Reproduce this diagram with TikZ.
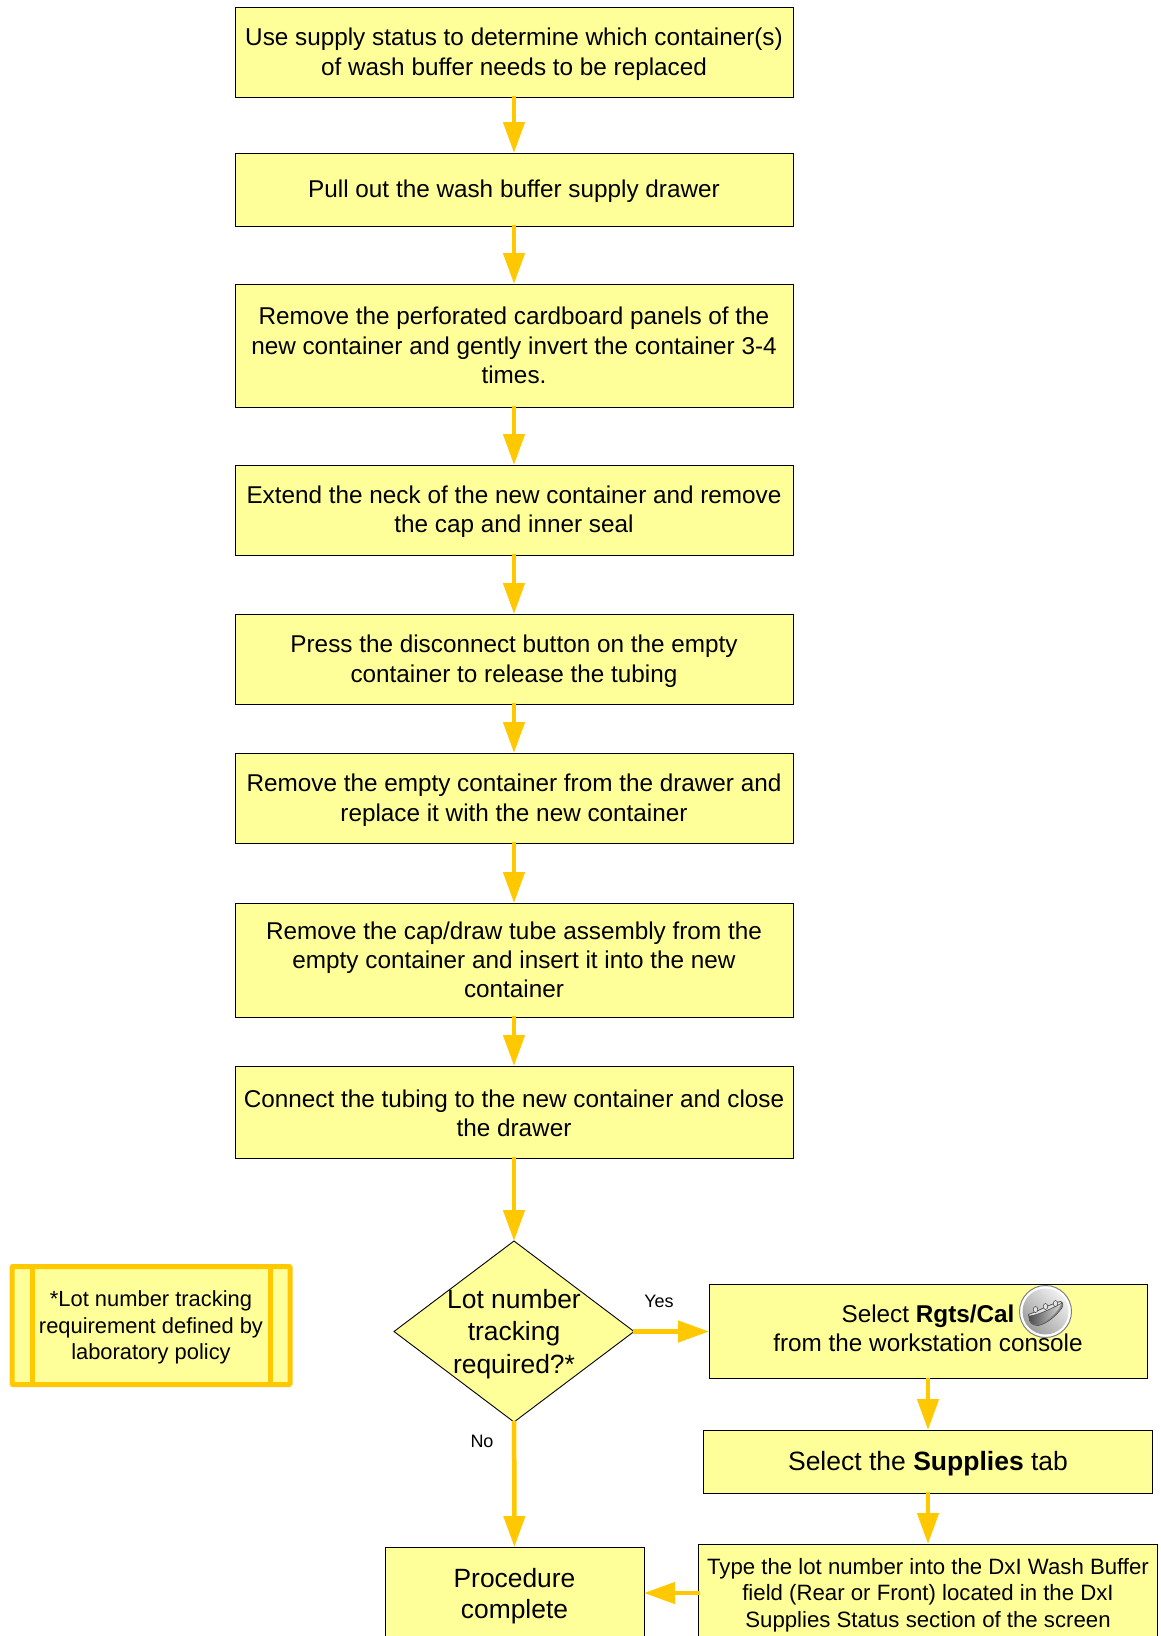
\documentclass[tikz,border=0pt]{standalone}
\usepackage{fontspec}
\setmainfont{Liberation Sans}
\usetikzlibrary{arrows.meta,shapes.geometric}
\definecolor{boxfill}{HTML}{FFFF99}
\definecolor{flow}{HTML}{FFC800}
\newcommand\tup[1]{\rule{0pt}{#1pt}}
\tikzset{
  bx/.style 2 args={draw=black,line width=0.9pt,fill=boxfill,inner sep=0pt,outer sep=0pt,
    minimum width=#1,minimum height=#2,align=center,font=\fontsize{24.3}{29.2}\selectfont},
  link/.style={draw=flow,line width=4.5pt,-{Triangle[length=31pt,width=21pt]},shorten <=-1pt},
  lab/.style={inner sep=0pt,font=\fontsize{18}{22}\selectfont}
}
\begin{document}
\begin{tikzpicture}[x=1pt,y=-1pt]
\path[use as bounding box] (0,0) rectangle (1160,1636);
\clip (0,0) rectangle (1160,1636);
\node[bx={558pt}{90pt}] (b1) at (514,52) {\tup{22}Use supply status to determine which container(s)\\of wash buffer needs to be replaced};
\node[bx={558pt}{73pt}] (b2) at (514,189.5) {\tup{22}Pull out the wash buffer supply drawer};
\node[bx={558pt}{123pt}] (b3) at (514,345.5) {Remove the perforated cardboard panels of the\\new container and gently invert the container 3-4\\times.};
\node[bx={558pt}{90pt}] (b4) at (514,510) {\tup{21}Extend the neck of the new container and remove\\the cap and inner seal};
\node[bx={558pt}{90pt}] (b5) at (514,659) {\tup{22}Press the disconnect button on the empty\\container to release the tubing};
\node[bx={558pt}{90pt}] (b6) at (514,798) {\tup{22}Remove the empty container from the drawer and\\replace it with the new container};
\node[bx={558pt}{114pt}] (b7) at (514,960) {Remove the cap/draw tube assembly from the\\empty container and insert it into the new\\container};
\node[bx={558pt}{92pt}] (b8) at (514,1112) {\tup{20}Connect the tubing to the new container and close\\the drawer};
\node[diamond,draw=black,line width=0.9pt,fill=boxfill,inner sep=0pt,outer sep=0pt,aspect=1.33,
  minimum width=240pt,minimum height=181pt,
  label={[name=dt,align=center,inner sep=0pt,font=\fontsize{26.4}{32.5}\selectfont]center:\tup{24}Lot number\\tracking\\required?*}] (d) at (514,1331.5) {};
\node[bx={438pt}{94pt}] (r) at (928,1331.5) {Select \textbf{Rgts/Cal}\\from the workstation console\rule[-6pt]{0pt}{6pt}};
\node[bx={449pt}{63pt},font=\fontsize{26.5}{30}\selectfont] (s) at (928,1461.5) {\tup{23}Select the \textbf{Supplies} tab};
\node[bx={459pt}{98pt},font=\fontsize{22.2}{26.5}\selectfont] (t) at (928,1593) {\tup{20}Type the lot number into the DxI Wash Buffer\\field (Rear or Front) located in the DxI\\Supplies Status section of the screen};
\node[bx={259pt}{92pt},font=\fontsize{26.4}{31.5}\selectfont] (p) at (514.5,1593) {\tup{25}Procedure\\complete};
\node[draw=flow,line width=5pt,fill=boxfill,rounded corners=1pt,inner sep=0pt,outer sep=0pt,
  minimum width=278pt,minimum height=118pt,align=center,font=\fontsize{21.9}{26.5}\selectfont] (n) at (151,1325.5) {\tup{20}*Lot number tracking\\requirement defined by\\laboratory policy};
\draw[flow,line width=5pt] ([xshift=20.5pt]n.north west) -- ([xshift=20.5pt]n.south west);
\draw[flow,line width=5pt] ([xshift=-20pt]n.north east) -- ([xshift=-20pt]n.south east);
\draw[link] (b1) -- (b2);
\draw[link] (b2) -- (b3);
\draw[link] (b3) -- (b4);
\draw[link] (b4) -- (b5);
\draw[link] (b5) -- (b6);
\draw[link] (b6) -- (b7);
\draw[link] (b7) -- (b8);
\draw[link] (b8) -- (d);
\draw[link] (d) -- (r);
\draw[link] (d) -- (p);
\draw[link] (r) -- (s);
\draw[link] (s) -- (t);
\draw[link] (t) -- (p);
\node[lab] (yes) at (659,1301) {Yes};
\node[lab] (no) at (482,1441.5) {No};
\node[circle,draw=white!50!black,line width=1pt,fill=white,
  minimum size=52pt,inner sep=0pt] (icon) at (1045.5,1311.5) {};
\begin{scope}[shift={(icon.center)}]
\shade[left color=white!94!black,right color=white!62!black,shading angle=-45] (0,0) circle (23pt);
\path[fill=white!55!black,draw=black!75,line width=0.5pt]
  (-17,3) .. controls (-8,0) and (6,-8) .. (15,-10) .. controls (18,-9) and (18,-6) .. (16,-3)
  .. controls (9,6) and (1,12) .. (-7,14) .. controls (-12,14) and (-15,12) .. (-16,9) -- cycle;
\shade[left color=black!70,right color=white!85!black]
  (-16.6,4.5) .. controls (-8,4) and (6,-3) .. (15.5,-8) .. controls (14,-2) and (6,7) .. (-7,13.5)
  .. controls (-11,13.5) and (-15,11) .. (-16,9) -- cycle;
\path[fill=white!88!black,draw=black!75,line width=0.5pt]
  (-17,3) .. controls (-8,0) and (6,-8) .. (15,-10) .. controls (17,-9.5) and (17,-8.5) .. (15.5,-8)
  .. controls (6,-3) and (-8,4) .. (-16.6,4.5) -- cycle;
\foreach \bx/\by in {-10/-2,0/-5,10/-8}
  \draw[black!75,line width=0.5pt,fill=white!90!black] (\bx,\by) circle[x radius=2.2pt,y radius=3pt];
\end{scope}
\end{tikzpicture}
\end{document}
